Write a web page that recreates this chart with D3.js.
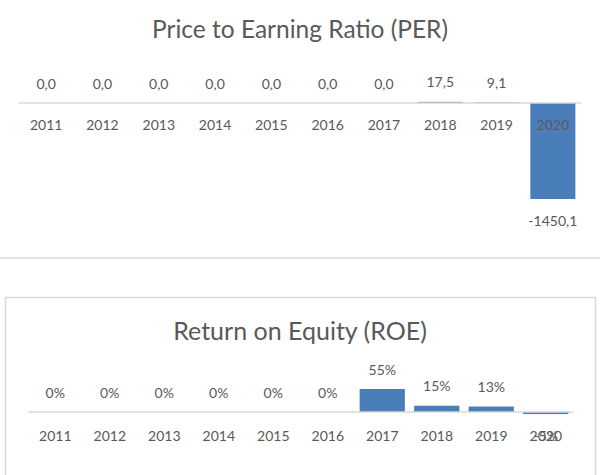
<!DOCTYPE html>
<html>
<head>
<meta charset="utf-8">
<script src="https://cdn.jsdelivr.net/npm/d3@7/dist/d3.min.js"></script>
<style>
  html, body { margin: 0; padding: 0; background: #fff; }
  svg { display: block; }
  text { font-family: Lato, "Open Sans", sans-serif; fill: #595959; }
</style>
</head>
<body>
<svg id="chart" width="600" height="475"></svg>
<script>
const years = ["2011","2012","2013","2014","2015","2016","2017","2018","2019","2020"];
const perValues = [0, 0, 0, 0, 0, 0, 0, 17.5, 9.1, -1450.1];
const roeValues = [0, 0, 0, 0, 0, 0, 55, 15, 13, -5];
const perTitle = "Price to Earning Ratio (PER)";
const roeTitle = "Return on Equity (ROE)";

const svg = d3.select("#chart");
const barColor = "#4a7ebb";
const axisColor = "#d9d9d9";

const fmtPer = v => v.toFixed(1).replace(".", ",");
const fmtRoe = v => Math.round(v) + "%";

// separator (bottom border of first chart) and frame of second chart
svg.append("line").attr("x1", 0).attr("x2", 600).attr("y1", 258).attr("y2", 258)
  .attr("stroke", "#e3e3e3").attr("stroke-width", 2);
svg.append("rect").attr("x", 5.5).attr("y", 297.5).attr("width", 590).attr("height", 200)
  .attr("fill", "none").attr("stroke", "#d9d9d9").attr("stroke-width", 1.5);

function drawChart(cfg) {
  const g = svg.append("g");
  const x = d3.scaleBand().domain(years).range(cfg.xRange).paddingInner(cfg.pad).paddingOuter(cfg.pad / 2);
  const y = d3.scaleLinear().domain(cfg.yDomain).range(cfg.yRange);
  const data = years.map((yr, i) => ({ yr, v: cfg.values[i] }));

  g.append("text").attr("x", 300).attr("y", cfg.titleY)
    .attr("text-anchor", "middle").attr("dominant-baseline", "central")
    .style("font-size", cfg.titleSize).text(cfg.title);

  g.selectAll("rect.bar").data(data).enter().append("rect").attr("class", "bar")
    .attr("x", d => x(d.yr))
    .attr("width", x.bandwidth())
    .attr("y", d => Math.min(y(d.v), y(0)))
    .attr("height", d => Math.abs(y(d.v) - y(0)))
    .attr("fill", barColor);

  // category axis
  const axis = d3.axisBottom(x).tickSize(0).tickPadding(0);
  const ag = g.append("g").attr("transform", `translate(0,${y(0) - 0.5})`).call(axis);
  ag.select(".domain").attr("stroke", axisColor).attr("stroke-width", 1.5);
  ag.selectAll(".tick text")
    .attr("y", cfg.catOffset).attr("dy", null)
    .attr("dominant-baseline", "central")
    .style("font-size", "14px").style("font-family", "Lato, 'Open Sans', sans-serif")
    .attr("fill", "#595959");

  // value labels
  g.selectAll("text.val").data(data).enter().append("text").attr("class", "val")
    .attr("x", d => x(d.yr) + x.bandwidth() / 2)
    .attr("y", d => d.v >= 0 ? y(d.v) - 20 : y(d.v) + 21)
    .attr("text-anchor", "middle").attr("dominant-baseline", "central")
    .style("font-size", "14px")
    .text(d => cfg.fmt(d.v));
}

drawChart({
  title: perTitle, titleY: 28, titleSize: "24.5px", values: perValues, fmt: fmtPer,
  xRange: [18, 581], pad: 0.2,
  yDomain: [d3.min(perValues), 0], yRange: [199, 103],
  catOffset: 22
});

drawChart({
  title: roeTitle, titleY: 330, titleSize: "25px", values: roeValues, fmt: fmtRoe,
  xRange: [28, 573], pad: 0.17,
  yDomain: [0, d3.max(roeValues)], yRange: [412, 389],
  catOffset: 24
});
</script>
</body>
</html>
